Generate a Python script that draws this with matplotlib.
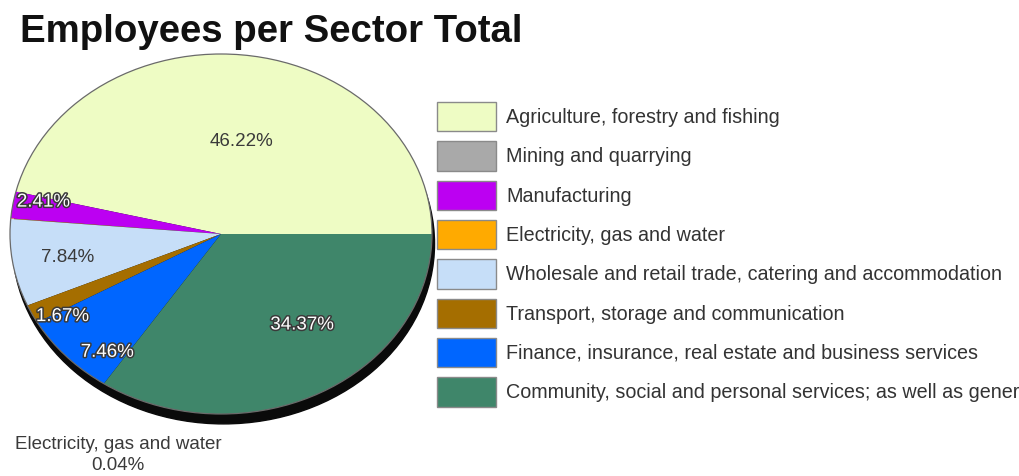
import matplotlib
matplotlib.use("Agg")
import matplotlib.pyplot as plt
import matplotlib.patheffects as pe
from matplotlib.patches import Ellipse
import numpy as np

# ---------------- data ----------------
sectors = [
    "Agriculture, forestry and fishing",
    "Mining and quarrying",
    "Manufacturing",
    "Electricity, gas and water",
    "Wholesale and retail trade, catering and accommodation",
    "Transport, storage and communication",
    "Finance, insurance, real estate and business services",
    "Community, social and personal services; as well as general government",
]
shares = [46.22, 0.0, 2.41, 0.04, 7.84, 1.67, 7.46, 34.37]
pct_labels = ["46.22%", "", "2.41%", "", "7.84%", "1.67%", "7.46%", "34.37%"]
colors = ["#EEFCC4", "#A9A9A9", "#BC00F2", "#FFAA00",
          "#C6DEF8", "#A56E00", "#0066FF", "#3F866A"]

# ---------------- layout / style ----------------
W, H = 1019, 476
FONT = "Liberation Sans"
fig = plt.figure(figsize=(W / 100, H / 100), dpi=100)

cx, cy, rx, ry = 221, 234, 211, 180          # pie ellipse in pixels
ax_l, ax_r, ax_t, ax_b = 0, 450, 40, 440     # axes box in pixels
ax = fig.add_axes([ax_l / W, (H - ax_b) / H, (ax_r - ax_l) / W, (ax_b - ax_t) / H])

wedges, _ = ax.pie(shares, colors=colors, startangle=0, counterclock=True,
                   wedgeprops=dict(linewidth=0))
ax.set_aspect("auto")
ax.set_xlim((ax_l - cx) / rx, (ax_r - cx) / rx)
ax.set_ylim((cy - ax_b) / ry, (cy - ax_t) / ry)
ax.axis("off")

# 3D-ish shadow under the pie and thin outline
ax.add_patch(Ellipse((0.012, -0.055), 2.0, 2.0, color="#0a0a0a", zorder=0))
ax.add_patch(Ellipse((0, 0), 2.0, 2.0, fill=False, ec="#6a6a6a", lw=0.9, zorder=3))

# percentage labels: (radius fraction, angle offset from wedge middle, outlined?)
label_place = [(0.52, -3.7, False), None, (0.86, -2.6, True), None,
               (0.74, 0.7, False), (0.88, 5.0, True), (0.85, 7.8, True),
               (0.635, 9.1, True)]
for w, lab, place in zip(wedges, pct_labels, label_place):
    if not lab or place is None:
        continue
    r, dth, outlined = place
    ang = np.deg2rad((w.theta1 + w.theta2) / 2 + dth)
    x, y = r * np.cos(ang), r * np.sin(ang)
    if outlined:
        t = ax.text(x, y, lab, ha="center", va="center", fontsize=13.5,
                    family=FONT, color="white", zorder=5)
        t.set_path_effects([pe.Stroke(linewidth=2.2, foreground="#3a3a3a"), pe.Normal()])
    else:
        ax.text(x, y, lab, ha="center", va="center", fontsize=13.5,
                family=FONT, color="#3a3a3a", zorder=5)

# outside label for the tiny slice
fig.text(118 / W, 1 - 455 / H, f"{sectors[3]}\n{shares[3]:.2f}%", ha="center",
         va="center", fontsize=13.5, family=FONT, color="#3a3a3a", linespacing=1.35)

# title
fig.text(20 / W, 1 - 42 / H, "Employees per Sector Total", ha="left", va="baseline",
         fontsize=27.6, fontweight="bold", family=FONT, color="#111111")

# legend
leg = fig.legend(wedges, sectors, loc="upper left",
                 bbox_to_anchor=(437 / W, 1 - 102 / H), frameon=False,
                 prop=dict(family=FONT, size=14.2), handlelength=3.0,
                 handleheight=1.92, labelspacing=0.5, handletextpad=0.5,
                 borderpad=0, borderaxespad=0)
for p in leg.get_patches():
    p.set_edgecolor("#8a8a8a")
    p.set_linewidth(1.0)
for t in leg.get_texts():
    t.set_color("#333333")

fig.savefig("out.png", dpi=100)
